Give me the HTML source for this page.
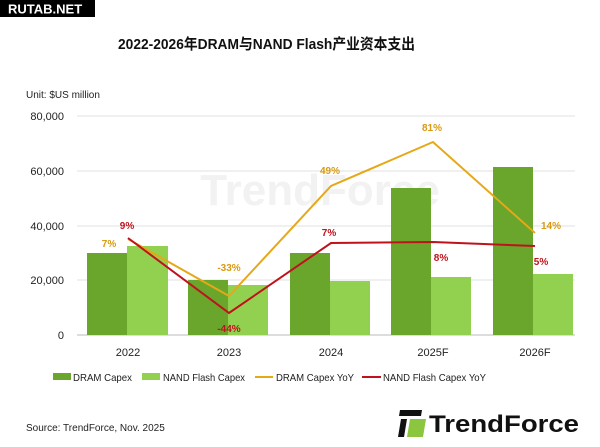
<!DOCTYPE html><html><head><meta charset="utf-8"><style>body{margin:0;background:#fff}svg{display:block}text{font-family:"Liberation Sans","Noto Sans CJK SC",sans-serif}</style></head><body>
<svg width="600" height="447" viewBox="0 0 600 447">
<rect x="0" y="0" width="95" height="17" fill="#000"/>
<text x="8" y="13.5" font-size="13" font-weight="bold" fill="#fff">RUTAB.NET</text>
<text x="118" y="49" font-size="15" font-weight="bold" fill="#111" textLength="297" lengthAdjust="spacingAndGlyphs">2022-2026年DRAM与NAND Flash产业资本支出</text>
<text x="26" y="98" font-size="10" fill="#222">Unit: $US million</text>
<g stroke="#e0e0e0" stroke-width="1">
<line x1="77" y1="116" x2="575" y2="116"/><line x1="77" y1="171" x2="575" y2="171"/><line x1="77" y1="226" x2="575" y2="226"/><line x1="77" y1="280" x2="575" y2="280"/></g>
<line x1="77" y1="335" x2="575" y2="335" stroke="#bbb"/>
<g font-size="11" fill="#222" text-anchor="end">
<text x="64" y="120">80,000</text><text x="64" y="175">60,000</text><text x="64" y="230">40,000</text><text x="64" y="284">20,000</text><text x="64" y="339">0</text></g>
<text x="320" y="205" font-size="44" font-weight="bold" fill="#f2f2f2" text-anchor="middle">TrendForce</text>
<g fill="#6aa52c"><rect x="87" y="253" width="40" height="82"/><rect x="188" y="280" width="40" height="55"/><rect x="290" y="253" width="40" height="82"/><rect x="391" y="188" width="40" height="147"/><rect x="493" y="167" width="40" height="168"/></g>
<g fill="#92d050"><rect x="127" y="246" width="41" height="89"/><rect x="228" y="285" width="40" height="50"/><rect x="330" y="281" width="40" height="54"/><rect x="431" y="277" width="40" height="58"/><rect x="533" y="274" width="40" height="61"/></g>
<polyline points="128,239 229,296 331,186 433,142 535,233" fill="none" stroke="#e6a817" stroke-width="2"/>
<polyline points="128,238 229,313 331,243 433,242 535,246" fill="none" stroke="#c0121c" stroke-width="2"/>
<g font-size="10" font-weight="bold" text-anchor="middle">
<text x="109" y="247" fill="#d89a10">7%</text><text x="127" y="229" fill="#c0121c">9%</text>
<text x="229" y="271" fill="#d89a10">-33%</text><text x="229" y="332" fill="#c0121c">-44%</text>
<text x="330" y="174" fill="#d89a10">49%</text><text x="329" y="236" fill="#c0121c">7%</text>
<text x="432" y="131" fill="#d89a10">81%</text><text x="441" y="261" fill="#c0121c">8%</text>
<text x="551" y="229" fill="#d89a10">14%</text><text x="541" y="265" fill="#c0121c">5%</text></g>
<g font-size="11" fill="#222" text-anchor="middle">
<text x="128" y="356">2022</text><text x="229" y="356">2023</text><text x="331" y="356">2024</text><text x="433" y="356">2025F</text><text x="535" y="356">2026F</text></g>
<g font-size="10.5" fill="#222">
<rect x="53" y="373" width="18" height="7" fill="#6aa52c"/><text x="73" y="381" textLength="59" lengthAdjust="spacingAndGlyphs">DRAM Capex</text>
<rect x="142" y="373" width="18" height="7" fill="#92d050"/><text x="163" y="381" textLength="82" lengthAdjust="spacingAndGlyphs">NAND Flash Capex</text>
<line x1="255" y1="377" x2="273" y2="377" stroke="#e6a817" stroke-width="2"/><text x="276" y="381" textLength="78" lengthAdjust="spacingAndGlyphs">DRAM Capex YoY</text>
<line x1="362" y1="377" x2="381" y2="377" stroke="#c0121c" stroke-width="2"/><text x="383" y="381" textLength="103" lengthAdjust="spacingAndGlyphs">NAND Flash Capex YoY</text></g>
<text x="26" y="431" font-size="10" fill="#222">Source: TrendForce, Nov. 2025</text>
<g><polygon points="400,410 422,410 421,416 399,416" fill="#111"/><polygon points="401,419 407,419 404,437 398,437" fill="#111"/>
<polygon points="410,419 426,419 423,437 407,437" fill="#8cc63f"/></g>
<text x="429" y="432" font-size="24" font-weight="bold" fill="#111" textLength="150" lengthAdjust="spacingAndGlyphs">TrendForce</text>
</svg></body></html>
